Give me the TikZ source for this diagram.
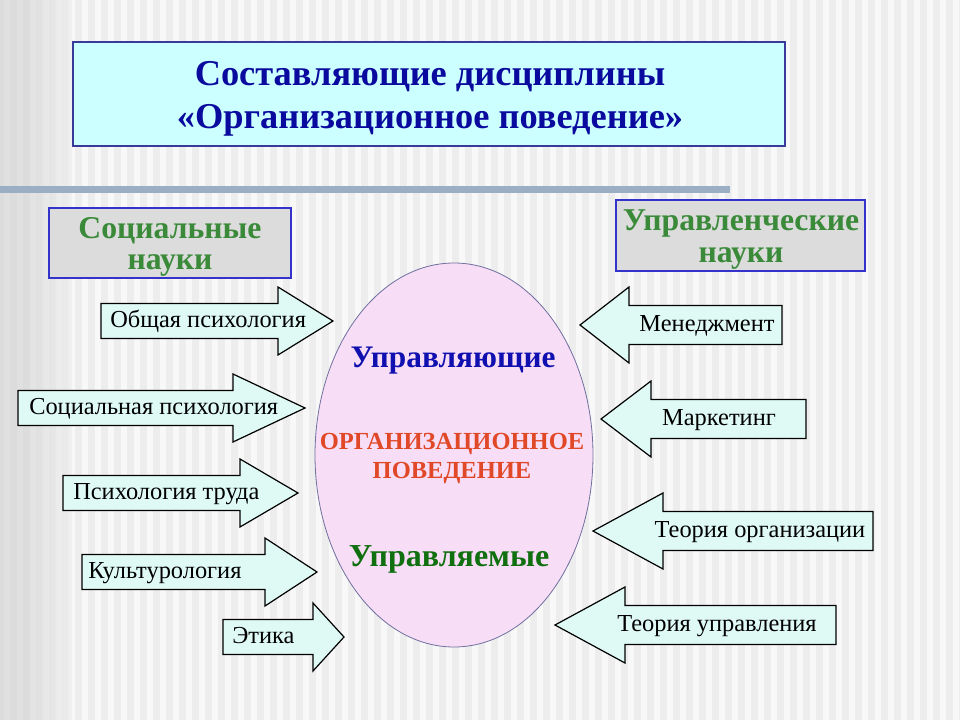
\documentclass[tikz,border=0pt]{standalone}
\usepackage{fontspec}
\setmainfont{Liberation Serif}
\usetikzlibrary{shapes.geometric}
\definecolor{bgbase}{HTML}{EDEDED}
\definecolor{bgstripe}{HTML}{F8F8F8}
\definecolor{barcol}{HTML}{9AAEC4}
\definecolor{titlefill}{HTML}{CCFFFF}
\definecolor{titledraw}{HTML}{3A3A9A}
\definecolor{titletext}{HTML}{0A0A9E}
\definecolor{headfill}{HTML}{DCDCDC}
\definecolor{headdraw}{HTML}{3333CC}
\definecolor{headtext}{HTML}{3A8A3A}
\definecolor{arrfill}{HTML}{DFFAF5}
\definecolor{ovalfill}{HTML}{F7DDF5}
\definecolor{ovaldraw}{HTML}{7070A0}
\definecolor{blueword}{HTML}{1010B0}
\definecolor{redword}{HTML}{E04828}
\definecolor{greenword}{HTML}{107010}
\tikzset{
  arrowshape/.style={draw=black, fill=arrfill, line width=0.9pt, line join=miter},
  lbl/.style={font=\fontsize{18.3}{20}\selectfont, text=black, inner sep=0pt},
  headbox/.style={draw=headdraw, fill=headfill, line width=1.1pt, inner sep=0pt},
  headtxt/.style={align=center, text=headtext, font=\fontsize{23.8}{23.5}\selectfont\bfseries},
}
\newcommand{\ArrR}[4]{%
  \draw[arrowshape] (#1,#4-17.5) -- (#2,#4-17.5) -- (#2,#4-34) -- (#3,#4)
    -- (#2,#4+34) -- (#2,#4+17.5) -- (#1,#4+17.5) -- cycle;}
\newcommand{\ArrL}[4]{%
  \draw[arrowshape] (#3,#4-19.5) -- (#2,#4-19.5) -- (#2,#4-38) -- (#1,#4)
    -- (#2,#4+38) -- (#2,#4+19.5) -- (#3,#4+19.5) -- cycle;}
\begin{document}
\begin{tikzpicture}[x=0.75pt,y=-0.75pt]
\useasboundingbox (0,0) rectangle (960,720);
% background
\fill[bgbase] (0,0) rectangle (960,720);
\foreach \i in {0,...,73} \fill[bgstripe] (\i*13+4,0) rectangle ++(6,720);
\shade[left color=black!18, right color=black!18, opacity=0.6] (0,0) rectangle (25,720);
\shade[left color=black!18, right color=bgbase, opacity=0.6] (25,0) rectangle (72,720);
\fill[barcol] (0,186) rectangle (730,193);

% title
\node[draw=titledraw, fill=titlefill, line width=1.1pt, minimum width=534pt,
  minimum height=78pt, inner sep=0pt] (titlebox) at (429,94) {};
\node[align=center, text=titletext, font=\fontsize{27.3}{32.5}\selectfont\bfseries]
  (title) at (430,99) {Составляющие дисциплины\\«Организационное поведение»};

% headers
\node[headbox, minimum width=181.5pt, minimum height=52.5pt] (socbox) at (170,243) {};
\node[headtxt] (soc) at (170,247) {Социальные\\науки};
\node[headbox, minimum width=186.75pt, minimum height=53.25pt] (uprbox) at (740.5,235.5) {};
\node[headtxt] (upr) at (741,239.5) {Управленческие\\науки};

% oval
\node[ellipse, draw=ovaldraw, fill=ovalfill, line width=0.6pt,
  minimum width=208.5pt, minimum height=288pt, inner sep=0pt] (oval) at (454,455) {};
\node[anchor=base, text=blueword, font=\fontsize{23.5}{24}\selectfont\bfseries] (w1) at (453,367) {Управляющие};
\node[text=redword, align=center, font=\fontsize{18.4}{21.75}\selectfont\bfseries]
  (w2) at (452,458) {ОРГАНИЗАЦИОННОЕ\\ПОВЕДЕНИЕ};
\node[anchor=base, text=greenword, font=\fontsize{24}{24}\selectfont\bfseries] (w3) at (449,566) {Управляемые};

% left arrows
\ArrR{101}{278}{333}{321}
\ArrR{18}{233}{305}{408}
\ArrR{63}{240}{298}{493}
\ArrR{82}{265}{317}{572}
\ArrR{223}{313}{344}{637}
\node[lbl, anchor=mid west] (a1) at (110,324) {Общая психология};
\node[lbl, anchor=mid west] (a2) at (29,411) {Социальная психология};
\node[lbl, anchor=mid west] (a3) at (73,496) {Психология труда};
\node[lbl, anchor=mid west] (a4) at (88,575) {Культурология};
\node[lbl, anchor=mid west] (a5) at (232,640) {Этика};

% right arrows
\ArrL{580}{629}{782}{325}
\ArrL{601}{651}{806}{419}
\ArrL{593}{663}{873}{531}
\ArrL{555}{625}{836}{625}
\node[lbl, anchor=mid] (b1) at (707,328) {Менеджмент};
\node[lbl, anchor=mid] (b2) at (719,422) {Маркетинг};
\node[lbl, anchor=mid] (b3) at (760,534) {Теория организации};
\node[lbl, anchor=mid] (b4) at (717,628) {Теория управления};
\end{tikzpicture}
\end{document}
